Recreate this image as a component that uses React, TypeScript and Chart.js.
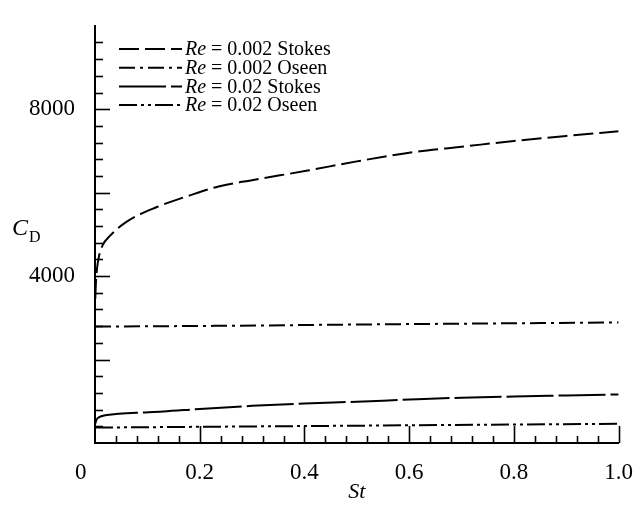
import React, { useEffect, useRef } from 'react';
import { Chart, registerables } from 'chart.js';

Chart.register(...registerables);

// ---- data ----
const seriesLabels = ['0.002 Stokes', '0.002 Oseen', '0.02 Stokes', '0.02 Oseen'];

const stokes002St = [0.0005, 0.002, 0.004, 0.008, 0.015, 0.028, 0.06, 0.117, 0.18, 0.236, 0.3, 0.406, 0.5, 0.613, 0.7, 0.8, 0.9, 1.0];
const stokes002Cd = [3450, 3900, 4200, 4500, 4750, 4960, 5300, 5650, 5930, 6150, 6300, 6530, 6750, 6980, 7100, 7240, 7360, 7470];

const oseen002St = [0, 0.25, 0.5, 0.75, 1.0];
const oseen002Cd = [2790, 2810, 2840, 2865, 2890];

const stokes02St = [0.0005, 0.003, 0.008, 0.02, 0.04, 0.08, 0.13, 0.2, 0.3, 0.4, 0.5, 0.6, 0.7, 0.8, 0.9, 1.0];
const stokes02Cd = [465, 560, 620, 665, 695, 725, 755, 815, 890, 945, 990, 1040, 1085, 1115, 1140, 1165];

const oseen02St = [0, 0.5, 1.0];
const oseen02Cd = [370, 415, 460];

const xTickValues = [0, 0.2, 0.4, 0.6, 0.8, 1.0];
const xTickLabels = ['0     ', '0.2', '0.4', '0.6', '0.8', '1.0'];
const yTickValues = [4000, 8000];
const yTickLabels = ['4000', '8000'];
const xMinorCount = 25; // minor ticks every 0.04
const yMinorStep = 400;
const yMajorStep = 2000;
const yMax = 10000;

const SERIF = '"Liberation Serif", "DejaVu Serif", serif';

const dashes = [
  [20, 6],
  [16, 5, 3, 5],
  [47, 5],
  [18, 4, 3, 4, 3, 4],
];

const toPoints = (xs: number[], ys: number[]) => xs.map((x, i) => ({ x, y: ys[i] }));

const decorPlugin = {
  id: 'decor',
  afterDraw(chart: any) {
    const ctx: CanvasRenderingContext2D = chart.ctx;
    const xs = chart.scales.x;
    const ys = chart.scales.y;
    const { left, bottom } = chart.chartArea;
    ctx.save();
    ctx.strokeStyle = '#000';
    ctx.lineWidth = 1.6;
    ctx.setLineDash([]);
    // inward y ticks
    for (let v = yMinorStep; v < yMax; v += yMinorStep) {
      const y = Math.round(ys.getPixelForValue(v)) + 0.5;
      const len = v % yMajorStep === 0 ? 15 : 8;
      ctx.beginPath();
      ctx.moveTo(left, y);
      ctx.lineTo(left + len, y);
      ctx.stroke();
    }
    // inward x ticks
    for (let i = 1; i <= xMinorCount; i++) {
      const v = i / xMinorCount;
      const x = Math.round(xs.getPixelForValue(v)) + 0.5;
      const len = i % 5 === 0 ? 17 : 7;
      ctx.beginPath();
      ctx.moveTo(x, bottom);
      ctx.lineTo(x, bottom - len);
      ctx.stroke();
    }
    // legend
    const ds = chart.data.datasets;
    ctx.fillStyle = '#000';
    ctx.textBaseline = 'middle';
    ctx.textAlign = 'left';
    for (let i = 0; i < ds.length; i++) {
      const y = 49 + i * 18.7;
      ctx.lineWidth = 2;
      ctx.setLineDash(ds[i].borderDash || []);
      ctx.beginPath();
      ctx.moveTo(119, y);
      ctx.lineTo(182, y);
      ctx.stroke();
      ctx.setLineDash([]);
      ctx.font = `italic 20px ${SERIF}`;
      ctx.fillText('Re', 185, y + 1);
      const w = ctx.measureText('Re').width;
      ctx.font = `20px ${SERIF}`;
      ctx.fillText(' = ' + seriesLabels[i], 185 + w, y + 1);
    }
    // y axis title C_D
    ctx.textBaseline = 'alphabetic';
    ctx.font = `italic 24px ${SERIF}`;
    ctx.fillText('C', 12, 235);
    ctx.font = `16px ${SERIF}`;
    ctx.fillText('D', 29, 242);
    ctx.restore();
  },
};

export default function App() {
  const ref = useRef<HTMLCanvasElement>(null);
  useEffect(() => {
    const series = [
      toPoints(stokes002St, stokes002Cd),
      toPoints(oseen002St, oseen002Cd),
      toPoints(stokes02St, stokes02Cd),
      toPoints(oseen02St, oseen02Cd),
    ];
    const chart = new Chart(ref.current as HTMLCanvasElement, {
      type: 'line',
      data: {
        datasets: series.map((data, i) => ({
          label: 'Re = ' + seriesLabels[i],
          data,
          borderColor: '#000',
          borderWidth: 2,
          borderDash: dashes[i],
          pointRadius: 0,
          fill: false,
          cubicInterpolationMode: 'monotone',
        })),
      },
      options: {
        animation: false,
        responsive: true,
        maintainAspectRatio: false,
        layout: { padding: { top: 15, right: 16, left: 0, bottom: 0 } },
        plugins: { legend: { display: false }, tooltip: { enabled: false } },
        scales: {
          x: {
            type: 'linear',
            min: 0,
            max: 1,
            afterFit: (s: any) => { s.height = 66; },
            afterBuildTicks: (s: any) => { s.ticks = xTickValues.map((value) => ({ value })); },
            ticks: {
              autoSkip: false,
              maxRotation: 0,
              padding: 8,
              color: '#000',
              font: { family: SERIF, size: 23 },
              callback: (v: any) => xTickLabels[xTickValues.indexOf(Number(v))] ?? '',
            },
            grid: { display: false },
            border: { display: true, color: '#000', width: 2 },
            title: {
              display: true,
              text: 'St',
              color: '#000',
              font: { family: SERIF, size: 22, style: 'italic' },
              padding: { top: 0, bottom: 4 },
            },
          },
          y: {
            type: 'linear',
            min: 0,
            max: yMax,
            afterFit: (s: any) => { s.width = 95; },
            afterBuildTicks: (s: any) => { s.ticks = yTickValues.map((value) => ({ value })); },
            ticks: {
              autoSkip: false,
              padding: 12,
              color: '#000',
              font: { family: SERIF, size: 23 },
              callback: (v: any) => yTickLabels[yTickValues.indexOf(Number(v))] ?? '',
            },
            grid: { display: false },
            border: { display: true, color: '#000', width: 2 },
          },
        },
      },
      plugins: [decorPlugin],
    } as any);
    return () => chart.destroy();
  }, []);
  return (
    <div style={{ position: 'fixed', left: 0, top: 0, width: 641, height: 509, background: '#fff' }}>
      <canvas ref={ref} />
    </div>
  );
}
